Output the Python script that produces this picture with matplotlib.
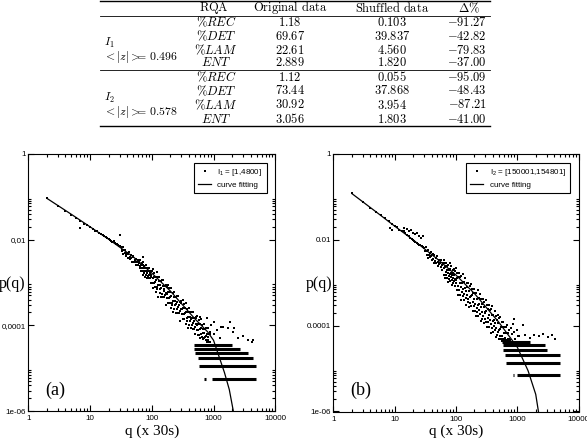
import numpy as np
import matplotlib
matplotlib.use("Agg")
import matplotlib.pyplot as plt
from matplotlib.lines import Line2D
from matplotlib.ticker import FixedLocator, FixedFormatter, NullFormatter

plt.rcParams["mathtext.fontset"] = "cm"

W, H = 587, 440

# ---- table data ----
RQA_NAMES = [r"$\%REC$", r"$\%DET$", r"$\%LAM$", r"$ENT$"]
ORIGINAL_I1 = ["1.18", "69.67", "22.61", "2.889"]
SHUFFLED_I1 = ["0.103", "39.837", "4.560", "1.820"]
DELTA_I1 = ["-91.27", "-42.82", "-79.83", "-37.00"]
ORIGINAL_I2 = ["1.12", "73.44", "30.92", "3.056"]
SHUFFLED_I2 = ["0.055", "37.868", "3.954", "1.803"]
DELTA_I2 = ["-95.09", "-48.43", "-87.21", "-41.00"]
GROUP_NAMES = [r"$I_1$", r"$I_2$"]
GROUP_Z = [r"$<|z|>\!\!\!\!=\,0.496$", r"$<|z|>\!\!\!\!=\,0.578$"]
HEADERS = [r"$\mathrm{RQA}$", r"$\mathrm{Original\ data}$", r"$\mathrm{Shuffled\ data}$", r"$\Delta\%$"]

# ---- panel (a): points, (log10 q, log10 p) ----
POINTS_A_HEAD = [
    (0.301, -1.03), (0.477, -1.21), (0.602, -1.34), (0.699, -1.42), (0.778, -1.50),
    (0.845, -1.72), (0.845, -1.57), (0.903, -1.63), (0.954, -1.66), (1.0, -1.70),
    (1.041, -1.76), (1.079, -1.79), (1.114, -1.80), (1.146, -1.85), (1.176, -1.87),
    (1.204, -1.89), (1.230, -1.92), (1.255, -1.93), (1.279, -1.96), (1.301, -1.98),
    (1.322, -2.01), (1.342, -2.02), (1.362, -2.05), (1.380, -2.04), (1.398, -2.08),
    (1.415, -2.10), (1.431, -2.09), (1.447, -2.13), (1.462, -2.14), (1.477, -2.15),
    (1.49, -1.90), (1.86, -2.40),
    (1.50, -2.17), (1.51, -2.27), (1.52, -2.23), (1.53, -2.17), (1.54, -2.33), (1.55, -2.25),
    (1.56, -2.31), (1.57, -2.24), (1.58, -2.37), (1.59, -2.33), (1.60, -2.30), (1.61, -2.43),
    (1.62, -2.34), (1.63, -2.28), (1.64, -2.41), (1.65, -2.44), (1.66, -2.35), (1.67, -2.43),
    (1.68, -2.53), (1.69, -2.41), (1.70, -2.39), (1.71, -2.53), (1.72, -2.47), (1.73, -2.52),
    (1.74, -2.46), (1.75, -2.60), (1.76, -2.53), (1.77, -2.48), (1.78, -2.59), (1.79, -2.54),
]
POINTS_A_MID = [
    (1.800, -2.52), (1.805, -2.67), (1.810, -2.61), (1.815, -2.48), (1.820, -2.74),
    (1.825, -2.59), (1.830, -2.67), (1.835, -2.54), (1.840, -2.74), (1.845, -2.67),
    (1.850, -2.59), (1.855, -2.82), (1.860, -2.65), (1.865, -2.53), (1.870, -2.74),
    (1.875, -2.77), (1.880, -2.61), (1.885, -2.72), (1.890, -2.88), (1.895, -2.66),
    (1.900, -2.60), (1.905, -2.83), (1.910, -2.72), (1.915, -2.78), (1.920, -2.67),
    (1.925, -2.89), (1.930, -2.76), (1.935, -2.65), (1.940, -2.84), (1.945, -2.74),
    (1.950, -2.89), (1.955, -2.65), (1.960, -2.82), (1.965, -2.78), (1.970, -2.89),
    (1.975, -2.74), (1.980, -2.86), (1.985, -3.00), (1.990, -2.73), (1.995, -2.83),
]
POINTS_A_BODY = [
    (2.000, -2.74), (2.006, -3.00), (2.012, -2.89), (2.018, -2.68), (2.024, -3.12),
    (2.030, -2.86), (2.036, -3.00), (2.042, -2.77), (2.048, -3.11), (2.054, -2.98),
    (2.060, -2.86), (2.066, -3.23), (2.072, -2.95), (2.078, -2.75), (2.084, -3.10),
    (2.090, -3.16), (2.096, -2.88), (2.102, -3.07), (2.108, -3.33), (2.114, -2.96),
    (2.120, -2.86), (2.126, -3.25), (2.132, -3.06), (2.138, -3.16), (2.144, -2.97),
    (2.150, -3.34), (2.156, -3.13), (2.162, -2.95), (2.168, -3.26), (2.174, -3.09),
    (2.180, -3.35), (2.186, -2.95), (2.192, -3.21), (2.198, -3.15), (2.204, -3.34),
    (2.210, -3.08), (2.216, -3.29), (2.222, -3.52), (2.228, -3.07), (2.234, -3.24),
    (2.240, -3.11), (2.246, -3.37), (2.252, -3.26), (2.258, -3.05), (2.264, -3.48),
    (2.270, -3.22), (2.276, -3.36), (2.282, -3.14), (2.288, -3.48), (2.294, -3.35),
    (2.300, -3.23), (2.306, -3.60), (2.312, -3.32), (2.318, -3.12), (2.324, -3.47),
    (2.330, -3.53), (2.336, -3.24), (2.342, -3.43), (2.348, -3.69), (2.354, -3.33),
    (2.360, -3.23), (2.366, -3.62), (2.372, -3.43), (2.378, -3.53), (2.384, -3.34),
    (2.390, -3.71), (2.396, -3.50), (2.402, -3.32), (2.408, -3.62), (2.414, -3.45),
    (2.420, -3.71), (2.426, -3.31), (2.432, -3.58), (2.438, -3.52), (2.444, -3.71),
    (2.450, -3.45), (2.456, -3.66), (2.462, -3.89), (2.468, -3.44), (2.474, -3.61),
    (2.480, -3.47), (2.486, -3.73), (2.492, -3.62), (2.498, -3.41), (2.504, -3.85),
    (2.510, -3.59), (2.516, -3.73), (2.522, -3.51), (2.528, -3.85), (2.534, -3.72),
    (2.540, -3.60), (2.546, -3.97), (2.552, -3.68), (2.558, -3.48), (2.564, -3.83),
    (2.570, -3.89), (2.576, -3.61), (2.582, -3.80), (2.588, -4.06), (2.594, -3.70),
    (2.600, -3.60), (2.606, -3.99), (2.612, -3.80), (2.618, -3.90), (2.624, -3.70),
    (2.630, -4.07), (2.636, -3.86), (2.642, -3.68), (2.648, -3.99), (2.654, -3.82),
    (2.660, -4.08), (2.666, -3.68), (2.672, -3.95), (2.678, -3.89), (2.684, -4.08),
    (2.690, -3.82), (2.696, -4.03), (2.702, -4.20), (2.708, -3.80), (2.714, -3.97),
    (2.720, -3.84), (2.726, -4.10), (2.732, -3.99), (2.738, -3.78), (2.744, -4.22),
    (2.750, -3.96), (2.756, -4.10), (2.762, -3.88), (2.768, -4.22), (2.774, -4.09),
    (2.780, -3.97), (2.786, -4.30), (2.792, -4.06), (2.798, -3.86), (2.804, -4.21),
    (2.810, -4.27), (2.816, -3.99), (2.822, -4.18), (2.828, -4.32), (2.834, -4.08),
    (2.840, -3.98), (2.846, -4.30), (2.852, -4.18), (2.858, -4.28), (2.864, -4.09),
    (2.870, -4.35), (2.876, -4.25), (2.882, -4.07), (2.888, -4.36), (2.894, -4.21),
    (2.900, -4.38), (2.906, -4.07), (2.912, -4.34), (2.918, -4.28), (2.924, -4.40),
    (2.930, -4.21), (2.936, -4.38), (2.942, -4.15), (2.948, -4.20),
]
POINTS_A_TAIL = [
    (2.78, -3.80), (2.89, -3.84), (2.96, -4.00), (3.0, -3.92), (3.0, -4.20), (3.05, -4.10),
    (3.10, -4.30), (3.12, -4.03), (3.15, -4.05), (3.24, -4.06), (3.26, -3.92), (3.31, -4.15),
    (3.33, -4.06), (3.40, -4.30), (3.48, -4.25), (3.55, -4.35), (3.64, -4.35), (3.62, -4.38),
]
CURVE_A_LOGQ = [0.301, 0.699, 1.0, 1.301, 1.699, 2.0, 2.301, 2.699, 2.903, 3.0, 3.176, 3.255, 3.32]
CURVE_A_LOGP = [-1.035, -1.41, -1.70, -1.99, -2.40, -2.78, -3.20, -3.85, -4.15, -4.35, -5.10, -5.50, -6.0]
STREAK_A_P = [5.7e-6, 5.7e-6, 1.13e-5, 1.7e-5, 2.25e-5, 2.8e-5, 3.4e-5]
STREAK_A_Q0 = [700, 930, 590, 560, 500, 490, 480]
STREAK_A_Q1 = [760, 4900, 4900, 4300, 3600, 2700, 2000]

# ---- panel (b) ----
POINTS_B_HEAD = [
    (0.301, -0.92), (0.477, -1.12), (0.602, -1.26), (0.699, -1.35), (0.778, -1.43),
    (0.845, -1.50), (0.903, -1.56), (0.925, -1.73), (0.954, -1.78), (0.954, -1.62),
    (1.0, -1.67), (1.041, -1.71), (1.079, -1.76), (1.114, -1.79), (1.146, -1.80),
    (1.176, -1.85), (1.204, -1.88), (1.230, -1.91), (1.255, -1.95), (1.279, -1.98),
    (1.301, -2.00), (1.15, -1.72), (1.20, -1.75), (1.23, -1.80), (1.26, -1.78),
    (1.30, -1.84), (1.33, -1.86), (1.36, -1.83), (1.40, -1.92), (1.43, -1.95),
    (1.46, -1.90), (1.32, -2.02), (1.34, -2.05), (1.36, -2.07), (1.38, -2.09),
    (1.40, -2.11), (1.42, -2.13), (1.44, -2.15), (1.46, -2.17), (1.48, -2.19),
    (1.50, -2.26), (1.51, -2.17), (1.52, -2.36), (1.53, -2.27), (1.54, -2.24), (1.55, -2.42),
    (1.56, -2.36), (1.57, -2.30), (1.58, -2.41), (1.59, -2.28), (1.60, -2.37), (1.61, -2.48),
    (1.62, -2.34), (1.63, -2.44), (1.64, -2.55), (1.65, -2.36), (1.66, -2.50), (1.67, -2.43),
    (1.68, -2.55), (1.69, -2.38), (1.70, -2.51), (1.71, -2.61), (1.72, -2.47), (1.73, -2.57),
    (1.74, -2.53), (1.75, -2.46), (1.76, -2.63), (1.77, -2.58), (1.78, -2.71), (1.79, -2.54),
]
POINTS_B_MID = [
    (1.800, -2.66), (1.805, -2.46), (1.810, -2.82), (1.815, -2.63), (1.820, -2.54),
    (1.825, -2.90), (1.830, -2.76), (1.835, -2.61), (1.840, -2.82), (1.845, -2.54),
    (1.850, -2.70), (1.855, -2.90), (1.860, -2.61), (1.865, -2.78), (1.870, -2.98),
    (1.875, -2.59), (1.880, -2.84), (1.885, -2.70), (1.890, -2.91), (1.895, -2.55),
    (1.900, -2.80), (1.905, -2.97), (1.910, -2.68), (1.915, -2.87), (1.920, -2.77),
    (1.925, -2.62), (1.930, -2.94), (1.935, -2.82), (1.940, -3.05), (1.945, -2.70),
    (1.950, -2.89), (1.955, -2.77), (1.960, -3.01), (1.965, -2.69), (1.970, -2.96),
    (1.975, -2.82), (1.980, -3.08), (1.985, -2.73), (1.990, -2.91), (1.995, -3.01),
]
POINTS_B_BODY = [
    (2.000, -2.94), (2.006, -2.65), (2.012, -3.17), (2.018, -2.90), (2.024, -2.77),
    (2.030, -3.28), (2.036, -3.08), (2.042, -2.87), (2.048, -3.17), (2.054, -2.77),
    (2.060, -3.00), (2.066, -3.28), (2.072, -2.87), (2.078, -3.11), (2.084, -3.40),
    (2.090, -2.85), (2.096, -3.21), (2.102, -3.00), (2.108, -3.30), (2.114, -2.80),
    (2.120, -3.15), (2.126, -3.40), (2.132, -2.99), (2.138, -3.26), (2.144, -3.12),
    (2.150, -2.90), (2.156, -3.36), (2.162, -3.19), (2.168, -3.51), (2.174, -3.01),
    (2.180, -3.29), (2.186, -3.11), (2.192, -3.46), (2.198, -3.00), (2.204, -3.39),
    (2.210, -3.19), (2.216, -3.56), (2.222, -3.07), (2.228, -3.33), (2.234, -3.47),
    (2.240, -3.32), (2.246, -3.03), (2.252, -3.55), (2.258, -3.28), (2.264, -3.15),
    (2.270, -3.65), (2.276, -3.45), (2.282, -3.24), (2.288, -3.54), (2.294, -3.14),
    (2.300, -3.38), (2.306, -3.66), (2.312, -3.25), (2.318, -3.49), (2.324, -3.78),
    (2.330, -3.23), (2.336, -3.59), (2.342, -3.38), (2.348, -3.68), (2.354, -3.18),
    (2.360, -3.53), (2.366, -3.78), (2.372, -3.36), (2.378, -3.63), (2.384, -3.49),
    (2.390, -3.27), (2.396, -3.73), (2.402, -3.56), (2.408, -3.89), (2.414, -3.39),
    (2.420, -3.67), (2.426, -3.49), (2.432, -3.84), (2.438, -3.38), (2.444, -3.77),
    (2.450, -3.57), (2.456, -3.94), (2.462, -3.45), (2.468, -3.71), (2.474, -3.85),
    (2.480, -3.69), (2.486, -3.40), (2.492, -3.92), (2.498, -3.65), (2.504, -3.52),
    (2.510, -4.03), (2.516, -3.83), (2.522, -3.62), (2.528, -3.92), (2.534, -3.52),
    (2.540, -3.76), (2.546, -4.04), (2.552, -3.63), (2.558, -3.87), (2.564, -4.16),
    (2.570, -3.61), (2.576, -3.97), (2.582, -3.75), (2.588, -4.05), (2.594, -3.55),
    (2.600, -3.90), (2.606, -4.15), (2.612, -3.74), (2.618, -4.01), (2.624, -3.87),
    (2.630, -3.65), (2.636, -4.11), (2.642, -3.94), (2.648, -4.27), (2.654, -3.77),
    (2.660, -4.05), (2.666, -3.87), (2.672, -4.22), (2.678, -3.76), (2.684, -4.15),
    (2.690, -3.94), (2.696, -4.31), (2.702, -3.82), (2.708, -4.09), (2.714, -4.23),
    (2.720, -4.08), (2.726, -3.79), (2.732, -4.31), (2.738, -4.04), (2.744, -3.92),
    (2.750, -4.35), (2.756, -4.23), (2.762, -4.02), (2.768, -4.32), (2.774, -3.92),
    (2.780, -4.16), (2.786, -4.36), (2.792, -4.04), (2.798, -4.28), (2.804, -4.33),
    (2.810, -4.02), (2.816, -4.37), (2.822, -4.18), (2.828, -4.34), (2.834, -3.98),
    (2.840, -4.33), (2.846, -4.30), (2.852, -4.17), (2.858, -4.36), (2.864, -4.31),
    (2.870, -4.09), (2.876, -4.33), (2.882, -4.38), (2.89, -4.05), (2.91, -4.20),
    (2.93, -3.95), (2.95, -4.15), (2.97, -4.30), (2.99, -4.10), (3.01, -4.25),
]
POINTS_B_TAIL = [
    (2.95, -3.85), (3.03, -4.25), (3.10, -3.99), (3.12, -4.22), (3.20, -4.28), (3.28, -4.22),
    (3.35, -4.25), (3.42, -4.20), (3.50, -4.27), (3.57, -4.22), (3.62, -4.30),
]
CURVE_B_LOGQ = [0.301, 0.699, 1.0, 1.301, 1.699, 2.0, 2.301, 2.699, 3.0, 3.176, 3.301, 3.345]
CURVE_B_LOGP = [-0.92, -1.35, -1.68, -2.00, -2.45, -2.82, -3.25, -3.92, -4.50, -5.05, -5.60, -6.0]
STREAK_B_P = [7.0e-6, 7.0e-6, 1.35e-5, 2.05e-5, 2.7e-5, 3.5e-5, 4.2e-5]
STREAK_B_Q0 = [850, 1000, 660, 630, 590, 575, 560]
STREAK_B_Q1 = [900, 5000, 5000, 4900, 3000, 2800, 1600]

X_TICKS = [1, 10, 100, 1000, 10000]
X_LABELS = ["1", "10", "100", "1000", "10000"]
Y_TICKS = [1e-6, 1e-4, 1e-2, 1]
Y_LABELS_A = ["1e-06", "0,0001", "0,01", "1"]
Y_LABELS_B = ["1e-06", "0.0001", "0.01", "1"]


def fx(x):
    return x / W


def fy(y):
    return 1 - y / H


def draw_table(fig):
    x0, x1 = 100, 490
    for y, lw in [(1, 1.0), (16, 0.6), (70, 0.6), (126, 1.0)]:
        fig.add_artist(Line2D([fx(x0), fx(x1)], [fy(y), fy(y)], color="black", lw=lw))
    col_x = [214, 290, 392, 469]
    for x, text in zip(col_x, HEADERS):
        fig.text(fx(x), fy(8), text, ha="center", va="center", fontsize=9)
    blocks = [
        (ORIGINAL_I1, SHUFFLED_I1, DELTA_I1, [22, 36, 50, 63], 43, 57),
        (ORIGINAL_I2, SHUFFLED_I2, DELTA_I2, [77, 91, 105, 119], 98, 112),
    ]
    for i, (orig, shuf, delta, rows, yname, yz) in enumerate(blocks):
        fig.text(fx(104), fy(yname), GROUP_NAMES[i], ha="left", va="center", fontsize=8.5)
        fig.text(fx(103), fy(yz), GROUP_Z[i], ha="left", va="center", fontsize=8.5)
        for j, y in enumerate(rows):
            fig.text(fx(216), fy(y), RQA_NAMES[j], ha="center", va="center", fontsize=9)
            fig.text(fx(290), fy(y), "$" + orig[j] + "$", ha="center", va="center", fontsize=9)
            fig.text(fx(392), fy(y), "$" + shuf[j] + "$", ha="center", va="center", fontsize=9)
            fig.text(fx(487), fy(y), "$" + delta[j] + "$", ha="right", va="center", fontsize=9)


def draw_panel(ax, points, curve_q, curve_p, s_p, s_q0, s_q1, ylabels, legend_label, tag):
    q = [10 ** a for a, b in points]
    p = [10 ** b for a, b in points]
    ax.plot(q, p, ls="none", marker="s", ms=1.9, mew=0, color="black")
    ax.hlines(s_p, s_q0, s_q1, color="black", lw=2.2)
    ax.plot(10 ** np.array(curve_q), 10 ** np.array(curve_p), color="black", lw=0.9)

    ax.set_xscale("log")
    ax.set_yscale("log")
    ax.set_xlim(1, 1e4)
    ax.set_ylim(1e-6, 1)
    ax.xaxis.set_major_locator(FixedLocator(X_TICKS))
    ax.xaxis.set_major_formatter(FixedFormatter(X_LABELS))
    ax.xaxis.set_minor_locator(FixedLocator([m * 10 ** k for k in range(4) for m in range(2, 10)]))
    ax.yaxis.set_major_locator(FixedLocator(Y_TICKS))
    ax.yaxis.set_major_formatter(FixedFormatter(ylabels))
    ax.yaxis.set_minor_locator(FixedLocator([m * 10.0 ** k for k in (-6, -4, -2) for m in range(2, 10)]))
    ax.xaxis.set_minor_formatter(NullFormatter())
    ax.yaxis.set_minor_formatter(NullFormatter())
    ax.tick_params(which="both", direction="in", top=True, right=True, width=0.8)
    ax.tick_params(which="major", length=4)
    ax.tick_params(which="minor", length=2.2)
    ax.tick_params(axis="x", pad=3)
    ax.tick_params(axis="y", pad=1.5)
    for lab in ax.get_xticklabels() + ax.get_yticklabels():
        lab.set_fontfamily("Liberation Sans")
        lab.set_fontsize(5.8)
    for sp in ax.spines.values():
        sp.set_linewidth(0.8)

    handles = [
        Line2D([], [], ls="none", marker="s", ms=1.6, mew=0, color="black"),
        Line2D([], [], color="black", lw=0.9),
    ]
    leg = ax.legend(handles, [legend_label, "curve fitting"], loc="upper right",
                    bbox_to_anchor=(0.965, 0.966), borderaxespad=0, fancybox=False,
                    framealpha=1, edgecolor="black", handlelength=1.6, handletextpad=0.8,
                    borderpad=0.5, labelspacing=0.4,
                    prop={"family": "Liberation Sans", "size": 5.8})
    leg.get_frame().set_linewidth(0.8)

    ax.text(0.068, 0.082, tag, transform=ax.transAxes, ha="left", va="center",
            family="Liberation Serif", fontsize=13)
    ax.text(0.5, -0.078, "q (x 30s)", transform=ax.transAxes, ha="center", va="center",
            family="Liberation Serif", fontsize=11)


fig = plt.figure(figsize=(W / 100, H / 100), dpi=100)
draw_table(fig)

ax_a = fig.add_axes([28.3 / W, 1 - 411 / H, 247 / W, 257 / H])
draw_panel(ax_a, POINTS_A_HEAD + POINTS_A_MID + POINTS_A_BODY + POINTS_A_TAIL,
           CURVE_A_LOGQ, CURVE_A_LOGP, STREAK_A_P, STREAK_A_Q0, STREAK_A_Q1, Y_LABELS_A,
           r"$\mathregular{I_1}$ = [1,4800]", "(a)")
ax_a.text(-0.118, 0.495, "p(q)", transform=ax_a.transAxes, ha="left", va="center",
          family="Liberation Serif", fontsize=11.5)

ax_b = fig.add_axes([333.3 / W, 1 - 411.5 / H, 245.3 / W, 257.5 / H])
draw_panel(ax_b, POINTS_B_HEAD + POINTS_B_MID + POINTS_B_BODY + POINTS_B_TAIL,
           CURVE_B_LOGQ, CURVE_B_LOGP, STREAK_B_P, STREAK_B_Q0, STREAK_B_Q1, Y_LABELS_B,
           r"$\mathregular{I_2}$ = [150001,154801]", "(b)")
ax_b.text(-0.005, 0.495, "p(q)", transform=ax_b.transAxes, ha="right", va="center",
          family="Liberation Serif", fontsize=11.5)

fig.savefig("out.png", dpi=100)
